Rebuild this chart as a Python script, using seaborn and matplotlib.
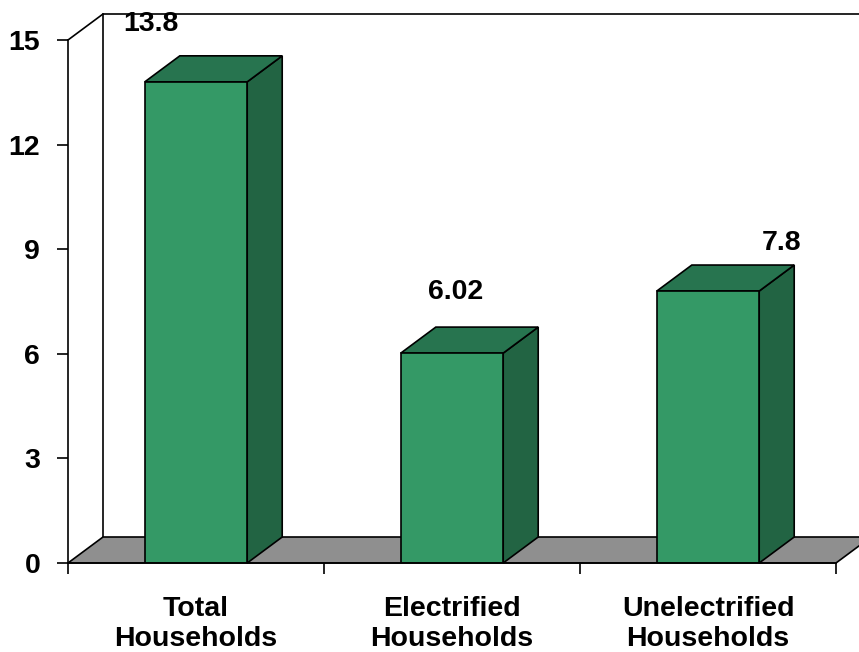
import matplotlib
matplotlib.use("Agg")
import matplotlib.pyplot as plt
from matplotlib.patches import Polygon
import seaborn as sns
import pandas as pd

categories = ["Total\nHouseholds", "Electrified\nHouseholds", "Unelectrified\nHouseholds"]
values = [13.8, 6.02, 7.8]
value_labels = ["13.8", "6.02", "7.8"]
y_ticks = [0, 3, 6, 9, 12, 15]

# label placement relative to the centre of each bar's top face (pixels)
label_offsets = [(-63, 32), (-14, 35), (56, 22)]

FRONT = "#349966"
TOP = "#27744f"
SIDE = "#226443"
FLOOR = "#8f8f8f"

sns.set_theme(style="white")
plt.rcParams["font.family"] = ["Liberation Sans", "DejaVu Sans"]
plt.rcParams["text.color"] = "black"
plt.rcParams["xtick.color"] = "black"
plt.rcParams["ytick.color"] = "black"
plt.rcParams["xtick.labelcolor"] = "black"
plt.rcParams["ytick.labelcolor"] = "black"

W, H = 859, 652
fig = plt.figure(figsize=(W / 100, H / 100), dpi=100)
ax = fig.add_axes([68 / W, 89 / H, 768 / W, 523 / H])

df = pd.DataFrame({"category": categories, "value": values})
bar_w = 0.4
sns.barplot(data=df, x="category", y="value", ax=ax, width=bar_w,
            color=FRONT, saturation=1, edgecolor="black", linewidth=1.2, zorder=3)

ax.set_xlim(-0.5, 2.5)
ax.set_ylim(0, 15)

# depth of the 3-D look, converted from pixels to data units
px_x = 3 / 768
px_y = 15 / 523
dx = 35 * px_x
dy = 26 * px_y

# floor
floor = Polygon([(-0.5, 0), (2.5, 0), (2.5 + dx, dy), (-0.5 + dx, dy)],
                closed=True, facecolor=FLOOR, edgecolor="black", lw=1.2,
                clip_on=False, zorder=1)
ax.add_patch(floor)

# back and side walls
ax.plot([-0.5 + dx, -0.5 + dx], [dy, 15 + dy], color="black", lw=1.2, clip_on=False, zorder=0.5)
ax.plot([-0.5 + dx, 2.5 + dx + 0.2], [15 + dy, 15 + dy], color="black", lw=1.2, clip_on=False, zorder=0.5)
ax.plot([-0.5, -0.5 + dx], [15, 15 + dy], color="black", lw=1.2, clip_on=False, zorder=0.5)

# top and side faces of each bar
for i, v in enumerate(values):
    x0, x1 = i - bar_w / 2, i + bar_w / 2
    top = Polygon([(x0, v), (x1, v), (x1 + dx, v + dy), (x0 + dx, v + dy)],
                  closed=True, facecolor=TOP, edgecolor="black", lw=1.2, zorder=2.5,
                  clip_on=False)
    side = Polygon([(x1, 0), (x1 + dx, dy), (x1 + dx, v + dy), (x1, v)],
                   closed=True, facecolor=SIDE, edgecolor="black", lw=1.2, zorder=2.5,
                   clip_on=False)
    ax.add_patch(side)
    ax.add_patch(top)
    ox, oy = label_offsets[i]
    ax.annotate(value_labels[i], xy=(i + dx / 2, v + dy), xytext=(ox, oy),
                textcoords="offset pixels", ha="center", va="center",
                fontsize=20.5, fontweight="bold", color="black",
                annotation_clip=False)

sns.despine(ax=ax, top=True, right=True)
for s in ("left", "bottom"):
    ax.spines[s].set_color("black")
    ax.spines[s].set_linewidth(1.2)
    ax.spines[s].set_zorder(4)

ax.set_yticks(y_ticks)
ax.set_yticklabels([str(t) for t in y_ticks])
ax.tick_params(axis="y", direction="out", length=8, width=1.2, color="black",
               labelsize=20.5, pad=12, left=True, labelcolor="black")
ax.set_xticks(range(len(categories)))
ax.set_xticklabels(categories)
ax.tick_params(axis="x", which="major", length=0, labelsize=20.5, pad=24,
               labelcolor="black")
ax.set_xticks([-0.5, 0.5, 1.5, 2.5], minor=True)
ax.tick_params(axis="x", which="minor", direction="out", length=8, width=1.2,
               color="black", bottom=True)
for lab in ax.get_xticklabels() + ax.get_yticklabels():
    lab.set_fontweight("bold")
    lab.set_linespacing(1.2)
ax.set_xlabel("")
ax.set_ylabel("")
ax.patch.set_alpha(0)

fig.savefig("out.png", dpi=100, facecolor="white")
